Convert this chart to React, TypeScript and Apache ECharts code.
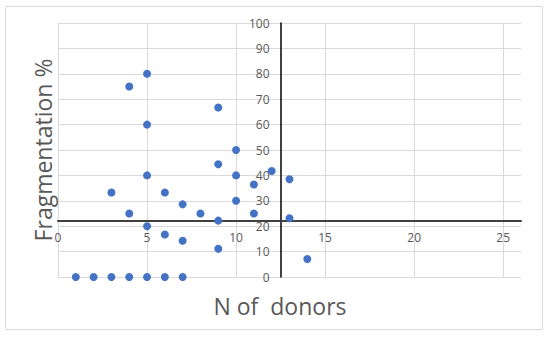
import React, { useEffect, useRef } from "react";
import * as echarts from "echarts";

const donors = [1, 2, 3, 3, 4, 4, 4, 5, 5, 5, 5, 5, 6, 6, 6, 7, 7, 7, 8, 9, 9, 9, 9, 10, 10, 10, 11, 11, 12, 13, 13, 14];
const fragmentation = [0, 0, 0, 33.3, 0, 25, 75, 0, 20, 40, 60, 80, 0, 16.7, 33.3, 0, 14.3, 28.6, 25, 11.1, 22.2, 44.4, 66.7, 30, 40, 50, 25, 36.4, 41.7, 23.1, 38.5, 7.1];
const xMin = 0;
const xMax = 26;
const yMin = 0;
const yMax = 100;
const xCross = 12.5;
const yCross = 22;
const xTitle = "N of  donors";
const yTitle = "Fragmentation %";

export default function App() {
  const ref = useRef<HTMLDivElement>(null);
  useEffect(() => {
    const chart = echarts.init(ref.current!, null, { renderer: "svg" });
    const font = "'Open Sans', 'Segoe UI', sans-serif";
    const labelColor = "#595959";
    const W = 550, H = 337;
    const grid = { left: 58, right: 29, top: 23, bottom: 60 };
    const gw = W - grid.left - grid.right;
    const gh = H - grid.top - grid.bottom;
    const xOffset = -((yCross - yMin) / (yMax - yMin)) * gh;
    const yOffset = -((xCross - xMin) / (xMax - xMin)) * gw;
    chart.setOption({
      animation: false,
      textStyle: { fontFamily: font },
      grid,
      xAxis: [
        {
          type: "value",
          min: xMin,
          max: xMax,
          interval: 5,
          position: "bottom",
          offset: xOffset,
          axisLine: { show: true, onZero: false, lineStyle: { color: "#404040", width: 2 } },
          axisTick: { show: false },
          axisLabel: { color: labelColor, fontSize: 12, margin: 10, showMaxLabel: false, fontFamily: font },
          splitLine: { show: true, showMaxLine: false, lineStyle: { color: "#D9D9D9", width: 1 } },
        },
      ],
      yAxis: [
        {
          type: "value",
          min: yMin,
          max: yMax,
          interval: 10,
          position: "left",
          offset: yOffset,
          axisLine: { show: true, onZero: false, lineStyle: { color: "#000000", width: 1.5 } },
          axisTick: { show: false },
          axisLabel: { color: labelColor, fontSize: 12, margin: 11, fontFamily: font },
          splitLine: { show: true, lineStyle: { color: "#D9D9D9", width: 1 } },
        },
      ],
      series: [
        {
          type: "scatter",
          symbolSize: 8,
          itemStyle: { color: "#4472C4", opacity: 1 },
          data: donors.map((d, i) => [d, fragmentation[i]]),
        },
      ],
      graphic: [
        {
          type: "rect",
          shape: { x: 5.5, y: 6.5, width: 537, height: 323 },
          style: { fill: "none", stroke: "#D9D9D9", lineWidth: 1 },
          silent: true,
        },
        {
          type: "text",
          x: 280,
          y: 306,
          style: { text: xTitle, fontSize: 23, fill: labelColor, fontFamily: font, align: "center", verticalAlign: "middle" },
        },
        {
          type: "text",
          x: 43,
          y: 150,
          rotation: Math.PI / 2,
          style: { text: yTitle, fontSize: 23, fill: labelColor, fontFamily: font, align: "center", verticalAlign: "middle" },
        },
      ],
    });
    return () => chart.dispose();
  }, []);
  return (
    <div
      ref={ref}
      style={{ position: "fixed", left: 0, top: 0, width: 550, height: 337, background: "#ffffff" }}
    />
  );
}
